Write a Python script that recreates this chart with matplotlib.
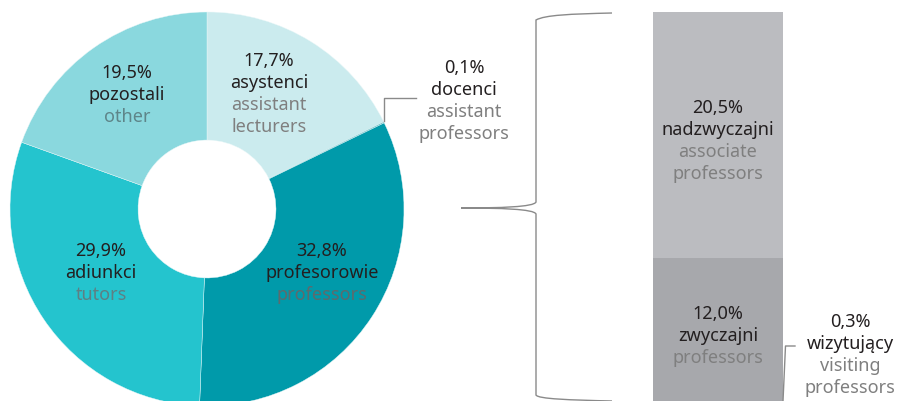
import matplotlib
matplotlib.use("Agg")
import matplotlib.pyplot as plt
from matplotlib.path import Path
from matplotlib.patches import PathPatch

plt.rcParams['font.family'] = ['Noto Sans', 'DejaVu Sans']

# ---- data ----
donut_pl = ["asystenci", "docenci", "profesorowie", "adiunkci", "pozostali"]
donut_en = ["assistant\nlecturers", "assistant\nprofessors", "professors", "tutors", "other"]
donut_vals = [17.7, 0.1, 32.8, 29.9, 19.5]
donut_colors = ["#CBEBEE", "#5FB8C2", "#009AAA", "#24C4CE", "#8AD8DE"]

bar_pl = ["wizytujący", "zwyczajni", "nadzwyczajni"]
bar_en = ["visiting\nprofessors", "professors", "associate\nprofessors"]
bar_vals = [0.3, 12.0, 20.5]
bar_colors = ["#8F9094", "#A7A8AC", "#BBBCC0"]

W, H = 898, 401
fig = plt.figure(figsize=(W / 100, H / 100), dpi=100)

DARK = "#231F20"
GRAY = "#7F7F7F"
FS = 13

def fmt(v):
    return f"{v:.1f}".replace(".", ",") + "%"

# ---- donut ----
cx, cy, R = 207, 209, 197
axp = fig.add_axes([(cx - R) / W, (H - cy - R) / H, 2 * R / W, 2 * R / H])
axp.pie(donut_vals, colors=donut_colors, startangle=90, counterclock=False,
        radius=1, wedgeprops=dict(width=0.65, edgecolor="#E8F7F8", linewidth=0.3))
axp.set_xlim(-1, 1)
axp.set_ylim(-1, 1)
axp.set_aspect("equal")
axp.axis("off")

# ---- bar ----
px_per = 12.0
total = sum(bar_vals)
top_px = 12
bx0, bw = 653, 130
axb = fig.add_axes([bx0 / W, (H - top_px - total * px_per) / H, bw / W, total * px_per / H])
bottom = 0
for v, c in zip(bar_vals, bar_colors):
    axb.bar(0, v, bottom=bottom, width=1, color=c, linewidth=0)
    bottom += v
axb.set_xlim(-0.5, 0.5)
axb.set_ylim(0, total)
axb.axis("off")

# ---- overlay in pixel coords ----
ax = fig.add_axes([0, 0, 1, 1])
ax.set_xlim(0, W)
ax.set_ylim(H, 0)
ax.axis("off")
ax.patch.set_alpha(0)

def block(x, y0, pct, pl, en, en_color=GRAY, step=22):
    lines = [(fmt(pct), DARK), (pl, DARK)] + [(e, en_color) for e in en.split("\n")]
    for i, (t, c) in enumerate(lines):
        ax.text(x, y0 + i * step, t, ha="center", va="center", color=c, fontsize=FS)

block(269, 61, donut_vals[0], donut_pl[0], donut_en[0])
block(464, 68, donut_vals[1], donut_pl[1], donut_en[1])
block(322, 251, donut_vals[2], donut_pl[2], donut_en[2], en_color="#5E6A6D")
block(101, 251, donut_vals[3], donut_pl[3], donut_en[3], en_color="#5E7F84")
block(127, 73, donut_vals[4], donut_pl[4], donut_en[4], en_color="#5E8589")

block(718, 108, bar_vals[2], bar_pl[2], bar_en[2])
block(718, 314, bar_vals[1], bar_pl[1], bar_en[1])
block(850, 322, bar_vals[0], bar_pl[0], bar_en[0])

LC = "#8A8A8A"
# docenci leader
ax.plot([384, 384, 416], [121, 98, 98], color=LC, lw=1)
# wizytujący leader
ax.plot([783, 785.5, 795], [401, 346, 346], color=LC, lw=1)

# brace
verts = [
    (612, 13),
    (570, 14), (545, 15), (536, 20),
    (536, 202),
    (534, 207), (500, 208), (461, 208),
    (500, 208), (534, 209), (536, 214),
    (536, 395),
    (538, 399), (570, 400), (612, 401),
]
codes = [Path.MOVETO,
         Path.CURVE4, Path.CURVE4, Path.CURVE4,
         Path.LINETO,
         Path.CURVE4, Path.CURVE4, Path.CURVE4,
         Path.CURVE4, Path.CURVE4, Path.CURVE4,
         Path.LINETO,
         Path.CURVE4, Path.CURVE4, Path.CURVE4]
ax.add_patch(PathPatch(Path(verts, codes), fill=False, edgecolor=LC, lw=1))

fig.savefig("out.png", dpi=100)
